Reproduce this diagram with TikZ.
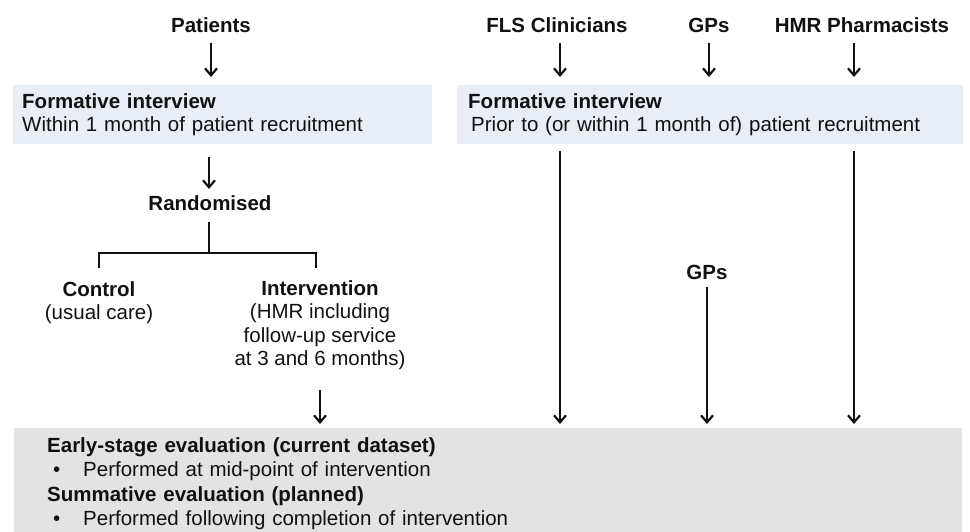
\documentclass[tikz,border=0pt]{standalone}
\usepackage{fontspec}
\setmainfont{Liberation Sans}
\usetikzlibrary{arrows.meta}
\definecolor{boxblue}{RGB}{233,237,246}
\definecolor{boxgray}{RGB}{227,227,227}
\definecolor{ink}{RGB}{17,17,17}
\begin{document}
\begin{tikzpicture}[x=1pt,y=-1pt,
  every node/.style={inner sep=0pt, text=ink, font=\fontsize{20.5}{23.5}\selectfont},
  heading/.style={font=\fontsize{20.5}{23.5}\selectfont\bfseries, anchor=base},
  phase/.style={fill=boxblue, anchor=north west, align=left, inner ysep=8pt},
  flowarrow/.style={draw=ink, line width=2pt, -{Straight Barb[length=7pt,width=12pt,line width=2.2pt]}},
  branch/.style={draw=ink, line width=2pt},
]
\useasboundingbox (0,0) rectangle (970,531);

% participant groups
\node[heading] (patients) at (211,32) {Patients};
\node[heading] (fls) at (557,32) {FLS Clinicians};
\node[heading] (gps) at (709,32) {GPs};
\node[heading] (hmr) at (862,32) {HMR Pharmacists};

% formative interview boxes
\node[phase, text width=401pt, inner xsep=9pt] (leftbox) at (13,85)
  {\textbf{Formative interview}\\Within 1 month of patient recruitment};
\node[phase, text width=484pt, inner xsep=11pt] (rightbox) at (457,85)
  {\textbf{Formative interview}\\\hspace*{3pt}Prior to (or within 1 month of) patient recruitment};

% randomisation
\node[heading] (rand) at (210,210) {Randomised};
\coordinate (split) at (209,253);
\coordinate (armL) at (99,268);
\coordinate (armR) at (316,268);
\node[anchor=north, align=center] (ctrl) at (99,281) {\textbf{Control}\\(usual care)};
\node[anchor=north, align=center] (interv) at (320,280)
  {\textbf{Intervention}\\(HMR including\\follow-up service\\at 3 and 6 months)};

\node[heading] (gpslate) at (707,279) {GPs};

% evaluation panel
\node[fill=boxgray, anchor=north west, minimum width=948pt, text width=882pt,
      inner xsep=33pt, inner ysep=9pt, align=left,
      font=\fontsize{20.5}{24.5}\selectfont] (evaluation) at (14,428)
  {\textbf{Early-stage evaluation (current dataset)}\\
   \hspace*{6pt}\makebox[30pt][l]{\textbullet}Performed at mid-point of intervention\\
   \textbf{Summative evaluation (planned)}\\
   \hspace*{6pt}\makebox[30pt][l]{\textbullet}Performed following completion of intervention};

% column positions on the right
\coordinate (colF) at (560,0);
\coordinate (colH) at (854,0);

% arrows into the formative interviews
\draw[flowarrow, shorten <=11pt, shorten >=8pt] (patients.south) -- (patients.south |- leftbox.north);
\draw[flowarrow, shorten <=11pt, shorten >=8pt] (fls.south -| colF) -- (colF |- rightbox.north);
\draw[flowarrow, shorten <=11pt, shorten >=8pt] (gps.south) -- (gps.south |- rightbox.north);
\draw[flowarrow, shorten <=11pt, shorten >=8pt] (hmr.south -| colH) -- (colH |- rightbox.north);

% left-hand flow
\draw[flowarrow, shorten <=13pt, shorten >=6pt] (leftbox.south -| split) -- (split |- rand.north);
\draw[branch, shorten <=12pt] (rand.south -| split) -- (split);
\draw[branch] (armL) -- (armL |- split) -- (armR |- split) -- (armR);
\draw[flowarrow, shorten <=20pt, shorten >=4pt] (interv.south) -- (interv.south |- evaluation.north);

% right-hand flow
\draw[flowarrow, shorten <=7pt, shorten >=4pt] (rightbox.south -| colF) -- (evaluation.north -| colF);
\draw[flowarrow, shorten <=8pt, shorten >=4pt] (gpslate.south) -- (gpslate.south |- evaluation.north);
\draw[flowarrow, shorten <=7pt, shorten >=4pt] (rightbox.south -| colH) -- (evaluation.north -| colH);
\end{tikzpicture}
\end{document}
